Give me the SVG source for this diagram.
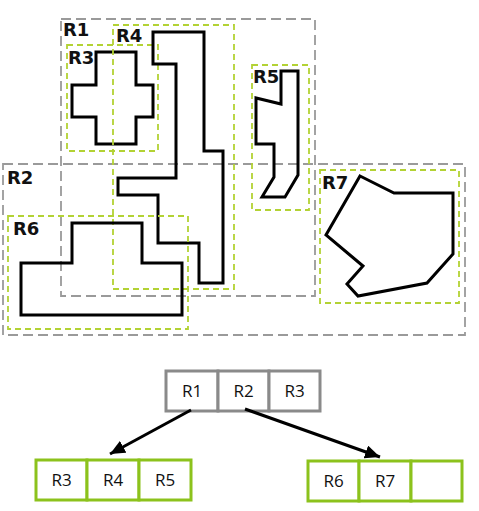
<svg xmlns="http://www.w3.org/2000/svg" width="479" height="511" viewBox="0 0 479 511">
<defs>
<style>
.gbox{fill:none;stroke:#9a9a9a;stroke-width:1.8;stroke-dasharray:10 5}
.ybox{fill:none;stroke:#b3d234;stroke-width:1.8;stroke-dasharray:6 4}
.shape{fill:none;stroke:#000;stroke-width:3;stroke-linejoin:miter}
.lbl{font-family:"DejaVu Sans","Liberation Sans",sans-serif;font-weight:bold;font-size:18px;fill:#111}
.cell-g{fill:#fff;stroke:#8a8a8a;stroke-width:3}
.cell-y{fill:#fff;stroke:#8cc21c;stroke-width:3}
.ct{font-family:"Open Sans","Liberation Sans",sans-serif;font-size:17px;fill:#111;text-anchor:middle}
.conn{stroke:#000;stroke-width:3;fill:none}
</style>
<marker id="ah" viewBox="0 0 10 10" refX="10" refY="5" markerWidth="5" markerHeight="4.5" orient="auto" markerUnits="strokeWidth" preserveAspectRatio="none">
<path d="M0,0 L10,5 L0,10 z" fill="#000"/>
</marker>
</defs>
<rect width="479" height="511" fill="#fff"/>
<g id="R1"><rect class="gbox" x="61" y="19" width="254" height="277"/><text class="lbl" x="63" y="36">R1</text></g>
<g id="R2"><rect class="gbox" x="3" y="164" width="462" height="171"/><text class="lbl" x="7" y="184">R2</text></g>
<g id="R3"><rect class="ybox" x="67" y="45" width="91" height="106"/><text class="lbl" x="68" y="64">R3</text>
<polygon class="shape" points="96,52 136,52 136,85 153,85 153,117 136,117 136,144 96,144 96,117 72,117 72,85 96,85"/></g>
<g id="R4"><rect class="ybox" x="113" y="25" width="121" height="264"/><text class="lbl" x="116" y="42">R4</text>
<polygon class="shape" points="153,32 204,32 204,151 223,151 223,283 199,283 199,243 158,243 158,195 118,195 118,178 176,178 176,64 153,64"/></g>
<g id="R5"><rect class="ybox" x="252" y="65" width="57" height="145"/><text class="lbl" x="253" y="83">R5</text>
<polygon class="shape" points="281,71 298,71 298,175 285,197 262,197 274,177 274,144 256,144 256,98 281,104"/></g>
<g id="R6"><rect class="ybox" x="8" y="216" width="180" height="113"/><text class="lbl" x="13" y="235">R6</text>
<polygon class="shape" points="72,223 142,223 142,263 182,263 182,315 21,315 21,263 72,263"/></g>
<g id="R7"><rect class="ybox" x="320" y="170" width="139" height="133"/><text class="lbl" x="322" y="189">R7</text>
<polygon class="shape" points="360,176 394,193 453,193 453,254 427,283 358,296 347,284 363,266 326,235"/></g>
<g id="root">
<rect class="cell-g" x="166" y="371" width="52" height="40"/><rect class="cell-g" x="218" y="371" width="51" height="40"/><rect class="cell-g" x="269" y="371" width="51" height="40"/>
<text class="ct" x="192" y="397">R1</text><text class="ct" x="243.5" y="397">R2</text><text class="ct" x="294.5" y="397">R3</text>
</g>
<g id="leftnode">
<rect class="cell-y" x="36" y="460" width="51" height="40"/><rect class="cell-y" x="87" y="460" width="52" height="40"/><rect class="cell-y" x="139" y="460" width="52" height="40"/>
<text class="ct" x="61.5" y="486">R3</text><text class="ct" x="113" y="486">R4</text><text class="ct" x="165" y="486">R5</text>
</g>
<g id="rightnode">
<rect class="cell-y" x="308" y="461" width="51" height="40"/><rect class="cell-y" x="359" y="461" width="52" height="40"/><rect class="cell-y" x="411" y="461" width="51" height="40"/>
<text class="ct" x="333.5" y="487">R6</text><text class="ct" x="385" y="487">R7</text>
</g>
<g id="connectors">
<line class="conn" x1="191" y1="410" x2="110" y2="454" marker-end="url(#ah)"/>
<line class="conn" x1="245" y1="409" x2="380" y2="457" marker-end="url(#ah)"/>
</g>
</svg>
